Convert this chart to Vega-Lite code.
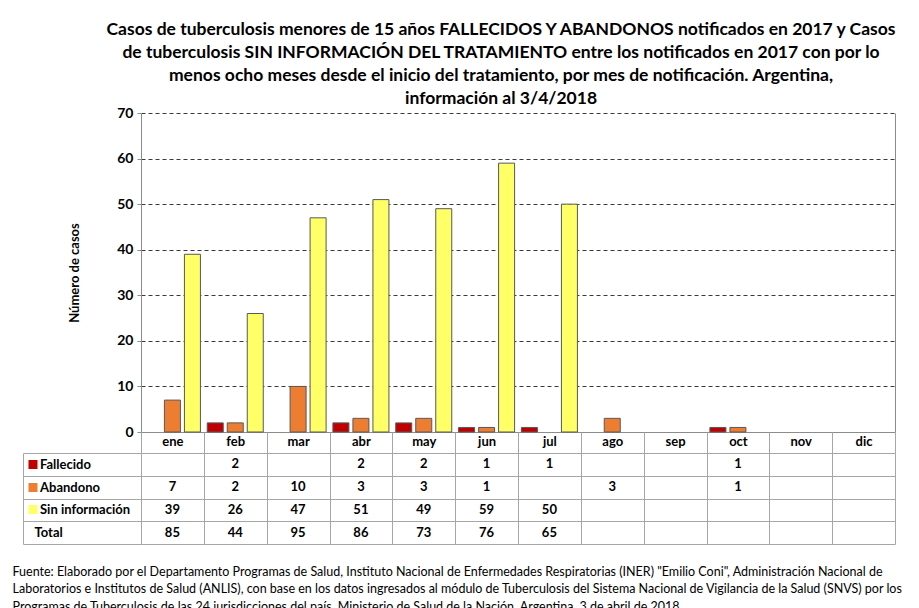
{
  "$schema": "https://vega.github.io/schema/vega-lite/v6.json",
  "background": "white",
  "padding": {"left": 12, "top": 20, "right": 20, "bottom": 0},
  "spacing": 21,
  "bounds": "flush",
  "config": {"font": "Lato", "view": {"stroke": null}},
  "datasets": {
    "barras": [
      {"mes": "ene", "serie": "Abandono", "casos": 7},
      {"mes": "ene", "serie": "Sin información", "casos": 39},
      {"mes": "feb", "serie": "Fallecido", "casos": 2},
      {"mes": "feb", "serie": "Abandono", "casos": 2},
      {"mes": "feb", "serie": "Sin información", "casos": 26},
      {"mes": "mar", "serie": "Abandono", "casos": 10},
      {"mes": "mar", "serie": "Sin información", "casos": 47},
      {"mes": "abr", "serie": "Fallecido", "casos": 2},
      {"mes": "abr", "serie": "Abandono", "casos": 3},
      {"mes": "abr", "serie": "Sin información", "casos": 51},
      {"mes": "may", "serie": "Fallecido", "casos": 2},
      {"mes": "may", "serie": "Abandono", "casos": 3},
      {"mes": "may", "serie": "Sin información", "casos": 49},
      {"mes": "jun", "serie": "Fallecido", "casos": 1},
      {"mes": "jun", "serie": "Abandono", "casos": 1},
      {"mes": "jun", "serie": "Sin información", "casos": 59},
      {"mes": "jul", "serie": "Fallecido", "casos": 1},
      {"mes": "jul", "serie": "Sin información", "casos": 50},
      {"mes": "ago", "serie": "Abandono", "casos": 3},
      {"mes": "oct", "serie": "Fallecido", "casos": 1},
      {"mes": "oct", "serie": "Abandono", "casos": 1}
    ],
    "tabla": [
      {"mes": "feb", "fila": "Fallecido", "valor": 2},
      {"mes": "abr", "fila": "Fallecido", "valor": 2},
      {"mes": "may", "fila": "Fallecido", "valor": 2},
      {"mes": "jun", "fila": "Fallecido", "valor": 1},
      {"mes": "jul", "fila": "Fallecido", "valor": 1},
      {"mes": "oct", "fila": "Fallecido", "valor": 1},
      {"mes": "ene", "fila": "Abandono", "valor": 7},
      {"mes": "feb", "fila": "Abandono", "valor": 2},
      {"mes": "mar", "fila": "Abandono", "valor": 10},
      {"mes": "abr", "fila": "Abandono", "valor": 3},
      {"mes": "may", "fila": "Abandono", "valor": 3},
      {"mes": "jun", "fila": "Abandono", "valor": 1},
      {"mes": "ago", "fila": "Abandono", "valor": 3},
      {"mes": "oct", "fila": "Abandono", "valor": 1},
      {"mes": "ene", "fila": "Sin información", "valor": 39},
      {"mes": "feb", "fila": "Sin información", "valor": 26},
      {"mes": "mar", "fila": "Sin información", "valor": 47},
      {"mes": "abr", "fila": "Sin información", "valor": 51},
      {"mes": "may", "fila": "Sin información", "valor": 49},
      {"mes": "jun", "fila": "Sin información", "valor": 59},
      {"mes": "jul", "fila": "Sin información", "valor": 50},
      {"mes": "ene", "fila": "Total", "valor": 85},
      {"mes": "feb", "fila": "Total", "valor": 44},
      {"mes": "mar", "fila": "Total", "valor": 95},
      {"mes": "abr", "fila": "Total", "valor": 86},
      {"mes": "may", "fila": "Total", "valor": 73},
      {"mes": "jun", "fila": "Total", "valor": 76},
      {"mes": "jul", "fila": "Total", "valor": 65}
    ]
  },
  "vconcat": [
    {
      "width": 754,
      "height": 319,
      "title": {
        "text": [
          "Casos de tuberculosis menores de 15 años FALLECIDOS Y ABANDONOS notificados en 2017 y Casos",
          "de tuberculosis SIN INFORMACIÓN DEL TRATAMIENTO entre los notificados en 2017 con por lo",
          "menos ocho meses desde el inicio del tratamiento, por mes de notificación. Argentina,",
          "información al 3/4/2018"
        ],
        "fontSize": 17.5,
        "fontWeight": "bold",
        "font": "Lato",
        "anchor": "middle",
        "frame": "group",
        "dx": -17,
        "lineHeight": 23.3,
        "offset": -2,
        "color": "black"
      },
      "data": {"name": "barras"},
      "layer": [
        {
          "mark": {"type": "bar", "stroke": "#595959", "strokeWidth": 1},
          "encoding": {
            "x": {
              "field": "mes",
              "type": "nominal",
              "sort": ["ene", "feb", "mar", "abr", "may", "jun", "jul", "ago", "sep", "oct", "nov", "dic"],
              "scale": {"domain": ["ene", "feb", "mar", "abr", "may", "jun", "jul", "ago", "sep", "oct", "nov", "dic"], "paddingInner": 0, "paddingOuter": 0},
              "axis": {
                "title": null,
                "labels": false,
                "ticks": false,
                "domainColor": "#8c8c8c",
                "grid": false
              }
            },
            "xOffset": {
              "field": "serie",
              "type": "nominal",
              "sort": ["Fallecido", "Abandono", "Sin información"],
              "scale": {"domain": ["Fallecido", "Abandono", "Sin información"], "paddingInner": 0.2, "paddingOuter": 0.17}
            },
            "y": {
              "field": "casos",
              "type": "quantitative",
              "scale": {"domain": [0, 70]},
              "axis": {
                "title": "Número de casos",
                "titleFontSize": 13,
                "titleFontWeight": "bold",
                "titleColor": "black",
                "titlePadding": 35,
                "values": [0, 10, 20, 30, 40, 50, 60, 70],
                "labelFontSize": 14,
                "labelFontWeight": "bold",
                "labelColor": "black",
                "tickSize": 4,
                "tickColor": "#8c8c8c",
                "labelPadding": 4,
                "domainColor": "#8c8c8c",
                "grid": true,
                "gridDash": [4, 3],
                "gridColor": "#3a3a3a",
                "gridOpacity": {"condition": {"test": "datum.value === 0", "value": 0}, "value": 1}
              }
            },
            "color": {
              "field": "serie",
              "type": "nominal",
              "scale": {"domain": ["Fallecido", "Abandono", "Sin información"], "range": ["#C00000", "#ED7D31", "#FFFF66"]},
              "legend": null
            }
          }
        },
        {
          "mark": {"type": "point", "opacity": 0},
          "encoding": {
            "y": {
              "field": "casos",
              "type": "quantitative",
              "axis": {"orient": "right", "title": null, "labels": false, "ticks": false, "grid": false, "domain": true, "domainColor": "#8c8c8c"}
            }
          }
        }
      ],
      "resolve": {"axis": {"y": "independent"}}
    },
    {
      "width": 754,
      "height": 91,
      "data": {"name": "tabla"},
      "title": {
        "text": [
          "Fuente: Elaborado por el Departamento Programas de Salud, Instituto Nacional de Enfermedades Respiratorias (INER) \"Emilio Coni\", Administración Nacional de",
          "Laboratorios e Institutos de Salud (ANLIS), con base en los datos ingresados al módulo de Tuberculosis del Sistema Nacional de Vigilancia de la Salud (SNVS) por los",
          "Programas de Tuberculosis de las 24 jurisdicciones del país. Ministerio de Salud de la Nación. Argentina.  3 de abril de 2018."
        ],
        "orient": "bottom",
        "anchor": "start",
        "frame": "bounds",
        "font": "Lato",
        "fontSize": 12.5,
        "fontWeight": "normal",
        "lineHeight": 17.5,
        "offset": 21,
        "dx": -6,
        "color": "black"
      },
      "layer": [
        {
          "mark": {"type": "text", "fontWeight": "bold", "fontSize": 13, "color": "black"},
          "encoding": {
            "x": {
              "field": "mes",
              "type": "nominal",
              "scale": {"domain": ["ene", "feb", "mar", "abr", "may", "jun", "jul", "ago", "sep", "oct", "nov", "dic"], "paddingInner": 0, "paddingOuter": 0},
              "axis": {
                "orient": "top",
                "title": null,
                "labelAngle": 0,
                "labelFontWeight": "bold",
                "labelFontSize": 13,
                "labelColor": "black",
                "labelBaseline": "middle",
                "labelPadding": -9,
                "ticks": true,
                "tickSize": 21,
                "tickColor": "#a6a6a6",
                "tickBand": "extent",
                "domain": false,
                "grid": true,
                "gridColor": "#a6a6a6",
                "gridOpacity": 1
              }
            },
            "y": {
              "field": "fila",
              "type": "nominal",
              "scale": {"domain": ["Fallecido", "Abandono", "Sin información", "Total"], "paddingInner": 0, "paddingOuter": 0},
              "axis": {
                "title": null,
                "tickBand": "extent",
                "grid": true,
                "gridColor": "#a6a6a6",
                "gridOpacity": 1,
                "ticks": true,
                "tickSize": 118,
                "tickColor": "#a6a6a6",
                "domain": false,
                "labelAlign": "left",
                "labelBaseline": "middle",
                "labelPadding": {"condition": {"test": "datum.value === 'Total'", "value": -11}, "value": -16.5},
                "labelFontWeight": "bold",
                "labelFontSize": 13,
                "labelColor": "black"
              }
            },
            "text": {"field": "valor", "type": "quantitative"}
          }
        },
        {
          "mark": {"type": "point", "opacity": 0},
          "encoding": {
            "y": {
              "field": "fila",
              "type": "nominal",
              "axis": {
                "orient": "left",
                "offset": 118,
                "title": null,
                "labels": false,
                "grid": false,
                "domain": true,
                "domainColor": "#a6a6a6",
                "ticks": true,
                "tickSize": -14,
                "tickWidth": 9,
                "tickDash": [0, 5, 9, 100],
                "tickColor": {
                  "condition": [
                    {"test": "datum.value === 'Fallecido'", "value": "#C00000"},
                    {"test": "datum.value === 'Abandono'", "value": "#ED7D31"},
                    {"test": "datum.value === 'Sin información'", "value": "#FFFF66"}
                  ],
                  "value": "transparent"
                }
              }
            }
          }
        }
      ],
      "resolve": {"axis": {"y": "independent"}}
    }
  ]
}
